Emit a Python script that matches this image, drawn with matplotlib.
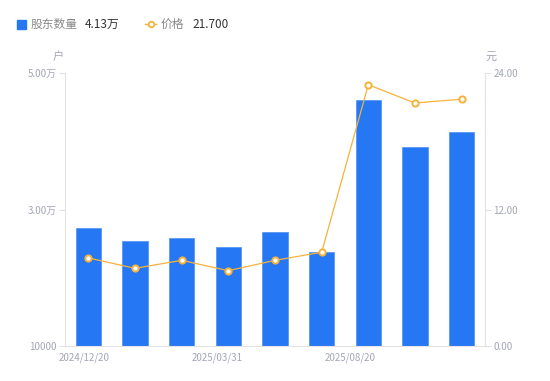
import numpy as np
import matplotlib.pyplot as plt

plt.rcParams['font.family'] = ['Noto Sans CJK SC', 'DejaVu Sans']

holders = [27290, 25390, 25820, 24460, 26660, 23730, 46000, 39110, 41300]
price = [7.74, 6.83, 7.53, 6.62, 7.53, 8.24, 22.97, 21.36, 21.70]
xlabels = ['2024/12/20', '2025/03/31', '2025/08/20']
xlabel_pos = [-0.09, 2.76, 5.6]
lticks = [10000, 30000, 50000]
lticklabels = ['10000', '3.00万', '5.00万']
rticks = [0, 12, 24]
rticklabels = ['0.00', '12.00', '24.00']

blue = '#2577f3'
orange = '#f7b23b'
gray = '#a3a6b4'
axc = '#e3e3e3'

fig = plt.figure(figsize=(5.5, 3.81), dpi=100)
ax = fig.add_axes([65/550, 1-346/381, 420/550, 273/381])
x = np.arange(len(holders))
ax.bar(x, holders, width=0.54, color=blue, edgecolor='#5a98f5', linewidth=0.6)
ax.set_ylim(10000, 50000)
ax.set_xlim(-0.5, len(holders)-0.5)
ax.set_yticks(lticks)
ax.set_yticklabels(lticklabels)
ax.set_xticks(xlabel_pos)
ax.set_xticklabels(xlabels)
ax.tick_params(axis='x', length=0, pad=5, labelsize=7, colors=gray)
ax.tick_params(axis='y', length=4, width=0.8, color=axc, pad=2, labelsize=7, labelcolor=gray)
for s in ['top', 'right']:
    ax.spines[s].set_visible(False)
for s in ['left', 'bottom']:
    ax.spines[s].set_color(axc)
    ax.spines[s].set_linewidth(0.8)

ax2 = ax.twinx()
ax2.plot(x, price, color=orange, lw=0.9, marker='o', ms=4.5, mfc='white',
         mec=orange, mew=1.4)
ax2.set_ylim(0, 24)
ax2.set_yticks(rticks)
ax2.set_yticklabels(rticklabels)
ax2.tick_params(axis='y', length=4, width=0.8, color=axc, pad=2, labelsize=7, labelcolor=gray)
for s in ['top', 'left', 'bottom']:
    ax2.spines[s].set_visible(False)
ax2.spines['right'].set_color(axc)
ax2.spines['right'].set_linewidth(0.8)

fig.text(53/550, 1-57/381, '户', fontsize=8, color=gray, ha='left', va='center')
fig.text(485/550, 1-57/381, '元', fontsize=8, color=gray, ha='left', va='center')

# legend
fig.patches.append(plt.Rectangle((17/550, 1-29/381), 9/550, 9/381, transform=fig.transFigure,
                                 color=blue, figure=fig))
fig.text(31/550, 1-24/381, '股东数量', fontsize=8.5, color='#888888', va='center')
fig.text(85/550, 1-24/381, '4.13万', fontsize=8.5, color='#333333', va='center')
ly = 1-24/381
fig.lines.append(plt.Line2D([145/550, 150.5/550, 156/550], [ly, ly, ly], transform=fig.transFigure,
                            color=orange, lw=1, marker='o', ms=4, mfc='white', mec=orange,
                            mew=1.3, markevery=[1], figure=fig))
fig.text(161/550, 1-24/381, '价格', fontsize=8.5, color='#888888', va='center')
fig.text(192/550, 1-24/381, '21.700', fontsize=8.5, color='#333333', va='center')

fig.savefig('out.png', dpi=100)
